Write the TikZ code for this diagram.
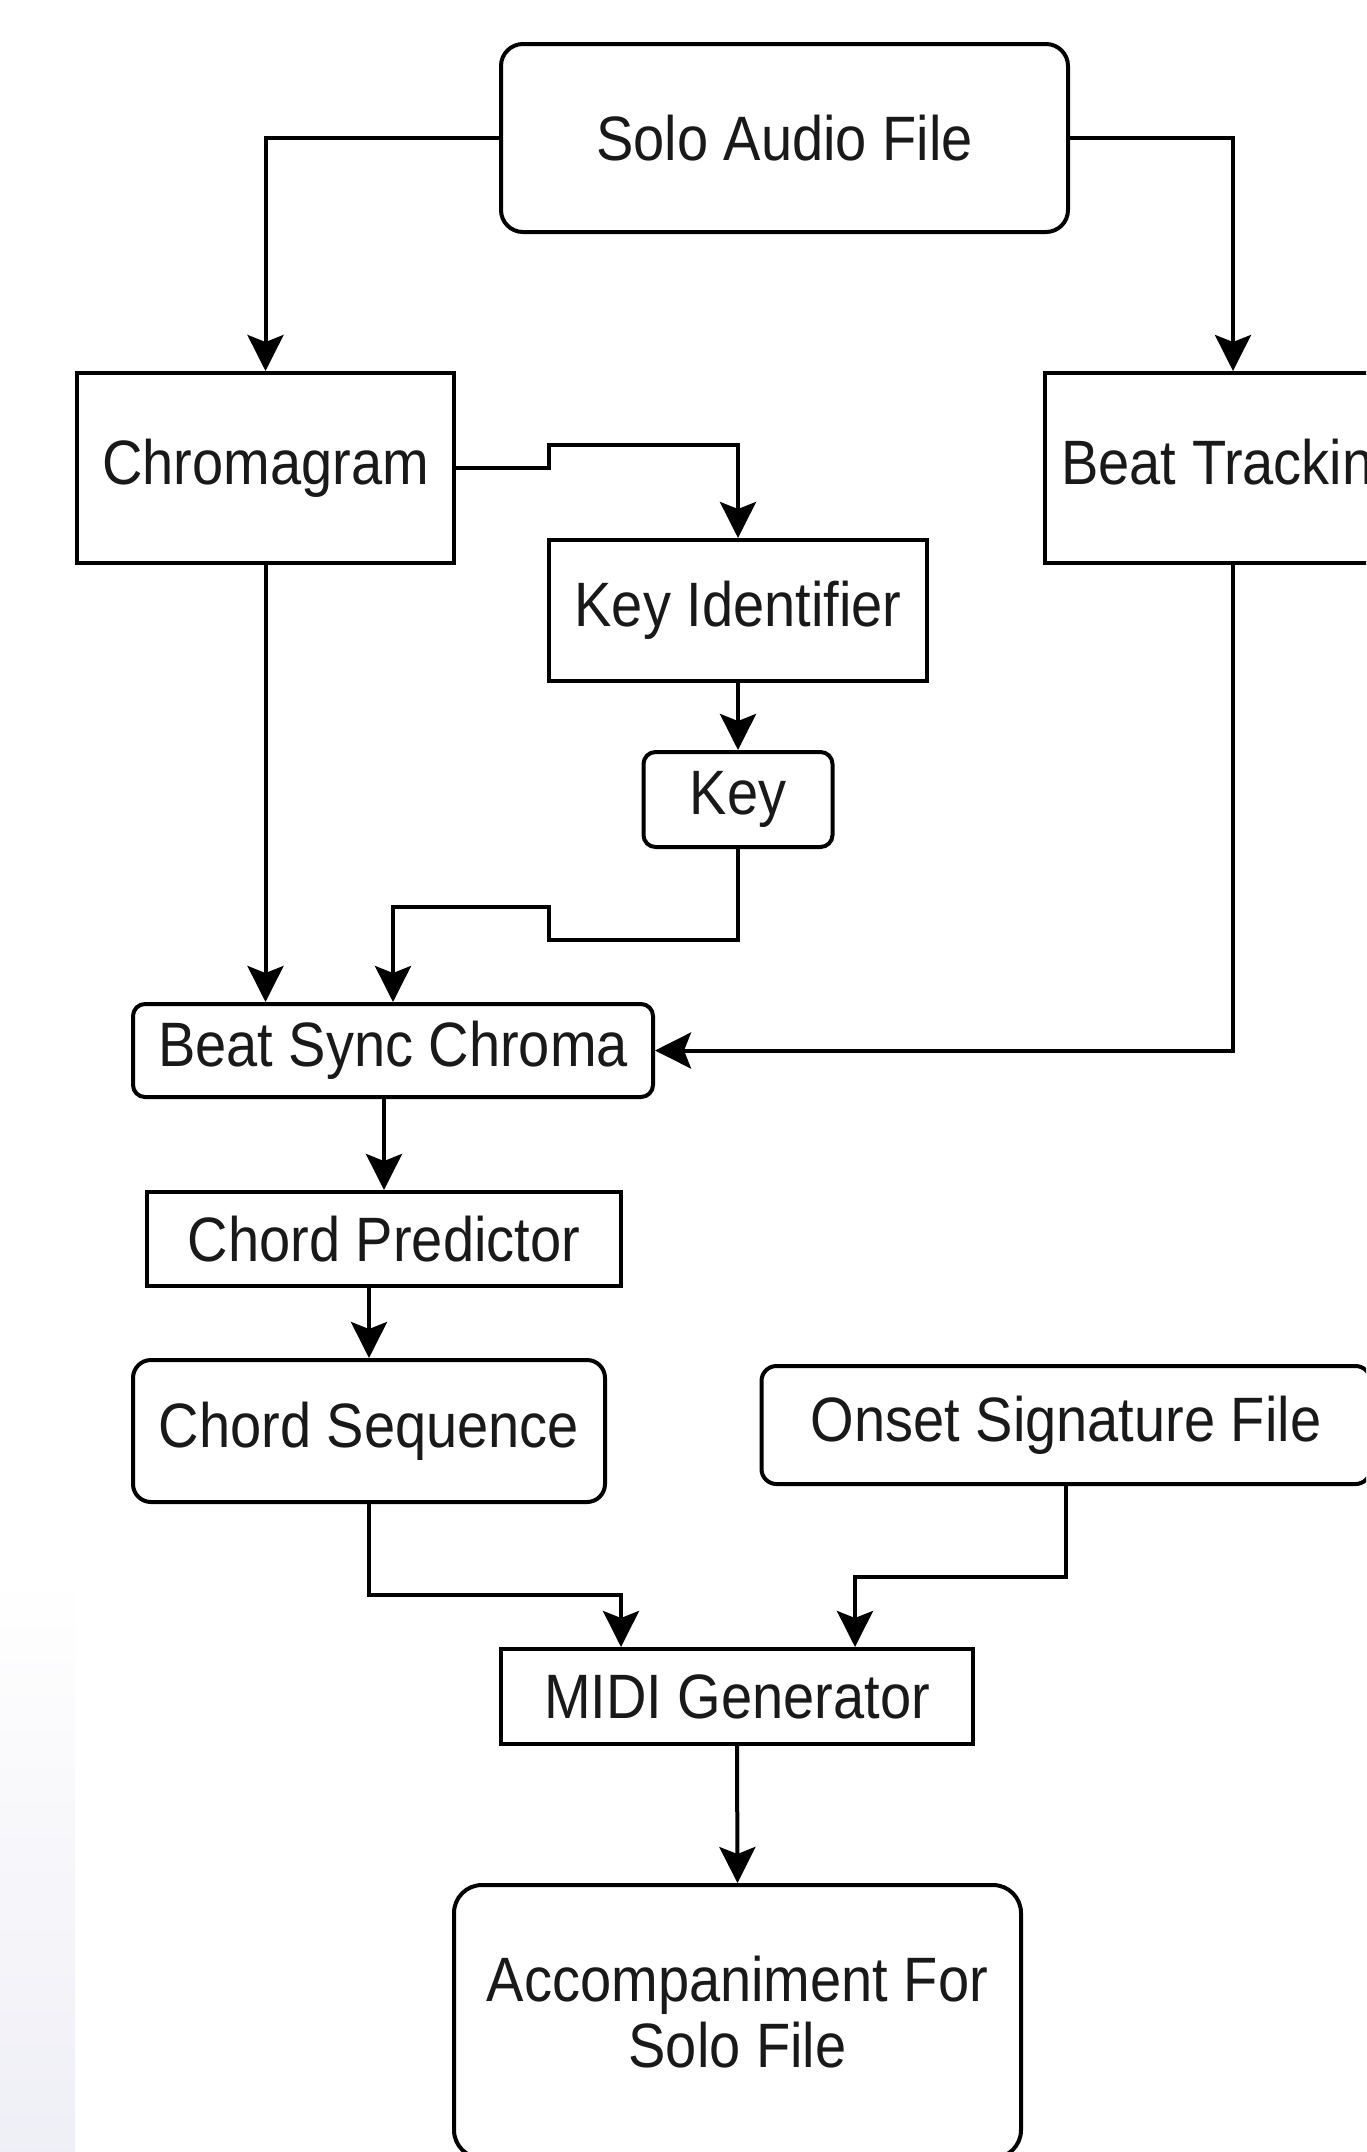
\documentclass[tikz,border=0pt]{standalone}
\usepackage{fontspec}
\setmainfont{Liberation Sans}
\usetikzlibrary{arrows.meta,calc}
\newcommand{\sy}[1]{\scalebox{1}[1.12]{#1}}
\begin{document}
\begin{tikzpicture}[x=1pt,y=-1pt,
  box/.style={draw=black, line width=4pt, fill=white, inner sep=0pt, rectangle,
    font=\fontsize{56}{59}\selectfont, text=black!90},
  rbox/.style={box, rounded corners=#1},
  arr/.style={draw=black, line width=4pt, -{Stealth[length=36pt,width=36pt,inset=7pt]}}]
\useasboundingbox (0,0) rectangle (1366,2152);
\fill[white] (0,0) rectangle (1366,2152);
\shade[top color=white, bottom color=blue!30!gray!10] (0,1575) rectangle (75,2152);
\clip (0,0) rectangle (1366,2152);

\node[rbox=22pt, minimum width=567pt, minimum height=188pt] (solo) at (784.5,138) {\sy{Solo Audio File}};
\node[box, minimum width=377pt, minimum height=190pt] (chroma) at (265.5,468) {\sy{Chromagram}};
\node[box, minimum width=377pt, minimum height=190pt] (beat) at (1233,468) {\sy{Beat Tracking}};
\node[box, minimum width=378pt, minimum height=141pt] (keyid) at (738,610.5) {\sy{Key Identifier}};
\node[rbox=12pt, minimum width=189pt, minimum height=95pt] (key) at (738,799.5) {\sy{Key}};
\node[rbox=12pt, minimum width=520pt, minimum height=93pt] (bsc) at (393,1050.5) {\sy{Beat Sync Chroma}};
\node[box, minimum width=474pt, minimum height=94pt] (cpred) at (384,1239) {\sy{Chord Predictor}};
\node[rbox=18pt, minimum width=472pt, minimum height=142pt] (cseq) at (369,1431) {\sy{Chord Sequence}};
\node[rbox=15pt, minimum width=609pt, minimum height=118pt] (onset) at (1066,1425) {\sy{Onset Signature File}};
\node[box, minimum width=472pt, minimum height=95pt] (midi) at (737,1696.5) {\sy{MIDI Generator}};
\node[rbox=28pt, minimum width=567pt, minimum height=273pt] (acc) at (737.5,2021.5)
  {\sy{\begin{tabular}{@{}c@{}}Accompaniment For\\Solo File\end{tabular}}};

\coordinate (c1) at (549,445);
\coordinate (c2) at (549,940);
\coordinate (c3) at (393,907);
\coordinate (c4) at (621,1595);
\coordinate (c5) at (855,1577);

\draw[arr] (solo.west) -| (chroma.north);
\draw[arr] (solo.east) -| (beat.north);
\draw[arr] (chroma.east) -| (c1) -| (keyid.north);
\draw[arr] (keyid.south) -- (key.north);
\draw[arr] (key.south) |- (c2) |- (c3) -- (bsc.north);
\draw[arr] (chroma.south) -- (chroma.south |- bsc.north);
\draw[arr] (beat.south) |- (bsc.east);
\draw[arr] (cpred.north |- bsc.south) -- (cpred.north);
\draw[arr] (cseq.north |- cpred.south) -- (cseq.north);
\draw[arr] (cseq.south) |- (c4) -- (c4 |- midi.north);
\draw[arr] (onset.south) |- (c5) -- (c5 |- midi.north);
\draw[arr] (midi.south) -- (acc.north);
\end{tikzpicture}
\end{document}
